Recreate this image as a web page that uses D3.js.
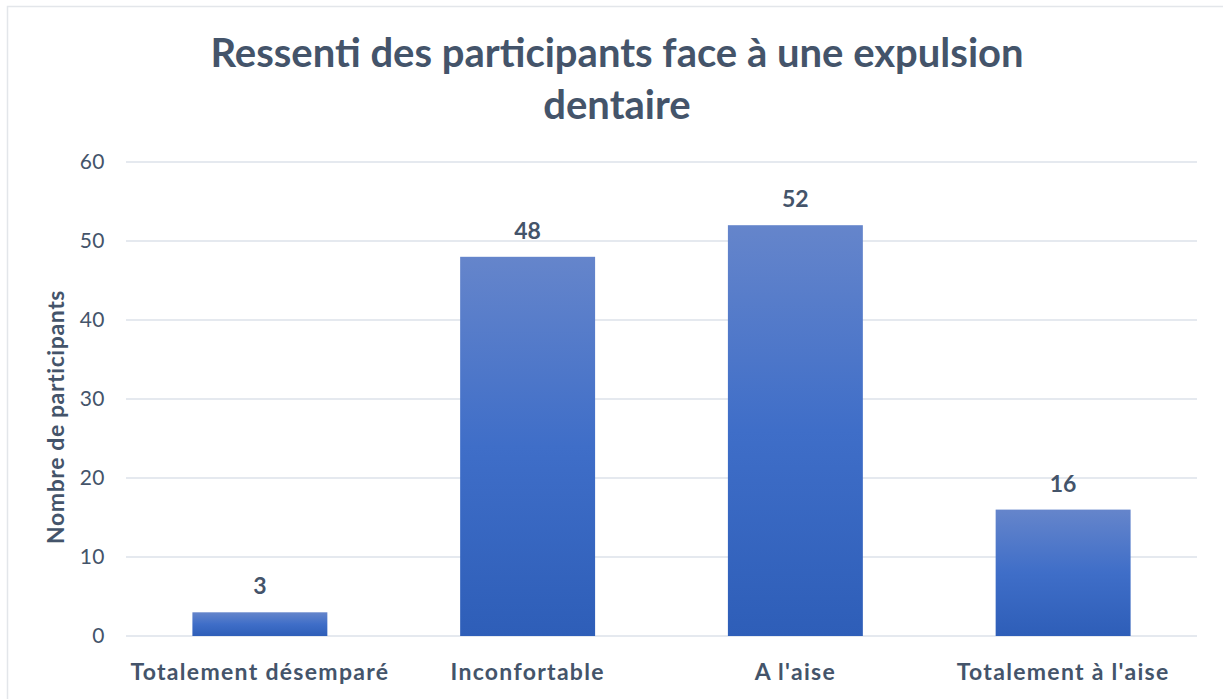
<!DOCTYPE html>
<meta charset="utf-8">
<script src="https://d3js.org/d3.v7.min.js"></script>
<style>
  body { margin: 0; background: #fff; }
  text { font-family: Lato, "Open Sans", sans-serif; fill: #44546A; }
</style>
<div id="chart"></div>
<script>
// data
var categories = ["Totalement désemparé", "Inconfortable", "A l'aise", "Totalement à l'aise"];
var values = [3, 48, 52, 16];
var yTicks = [0, 10, 20, 30, 40, 50, 60];
var titleLines = ["Ressenti des participants face à une expulsion", "dentaire"];

var W = 1223, H = 699;
var margin = {top: 162, right: 26, bottom: 63, left: 126},
    width = W - margin.left - margin.right,
    height = H - margin.top - margin.bottom;

var svg = d3.select("#chart").append("svg")
    .attr("width", W).attr("height", H);

// outer frame
svg.append("rect")
    .attr("x", 7.5).attr("y", 6.5)
    .attr("width", W + 10).attr("height", H + 10)
    .attr("fill", "none").attr("stroke", "#E3E6EA").attr("stroke-width", 1.5);

// gradient for the bars
var grad = svg.append("defs").append("linearGradient")
    .attr("id", "barGrad").attr("x1", 0).attr("y1", 0).attr("x2", 0).attr("y2", 1);
grad.append("stop").attr("offset", "0%").attr("stop-color", "#6585CB");
grad.append("stop").attr("offset", "50%").attr("stop-color", "#3F6EC8");
grad.append("stop").attr("offset", "100%").attr("stop-color", "#2E5EB8");

// title
svg.append("text")
    .attr("text-anchor", "middle")
    .style("font-size", "40px").style("font-weight", "bold")
  .selectAll("tspan")
  .data(titleLines)
  .enter().append("tspan")
    .attr("x", 617)
    .attr("y", function(d, i) { return 67 + i * 52; })
    .text(function(d) { return d; });

var g = svg.append("g")
    .attr("transform", "translate(" + margin.left + "," + margin.top + ")");

var x = d3.scaleBand().domain(categories).range([0, width]).paddingInner(0.496).paddingOuter(0.248);
var y = d3.scaleLinear().domain([0, 60]).range([height, 0]);

// gridlines
g.selectAll(".grid")
  .data(yTicks)
  .enter().append("line")
    .attr("x1", 0).attr("x2", width)
    .attr("y1", function(d) { return y(d); })
    .attr("y2", function(d) { return y(d); })
    .attr("stroke", "#DDE2EA").attr("stroke-width", 1.6);

// y axis
var yAxis = g.append("g")
    .call(d3.axisLeft(y).tickValues(yTicks).tickSize(0).tickPadding(21));
yAxis.select(".domain").remove();
yAxis.selectAll("text")
    .style("font-size", "21px").style("font-family", "Lato, sans-serif")
    .style("letter-spacing", "0.5px").attr("fill", "#44546A");

// x axis
var xAxis = g.append("g")
    .attr("transform", "translate(0," + height + ")")
    .call(d3.axisBottom(x).tickSize(0).tickPadding(28));
xAxis.select(".domain").remove();
xAxis.selectAll("text")
    .style("font-size", "23px").style("font-weight", "bold")
    .style("letter-spacing", "1.3px")
    .style("font-family", "Lato, sans-serif").attr("fill", "#44546A");

// bars
g.selectAll(".bar")
  .data(values)
  .enter().append("rect")
    .attr("x", function(d, i) { return x(categories[i]); })
    .attr("y", function(d) { return y(d); })
    .attr("width", x.bandwidth())
    .attr("height", function(d) { return height - y(d); })
    .attr("fill", "url(#barGrad)");

// value labels
g.selectAll(".val")
  .data(values)
  .enter().append("text")
    .attr("text-anchor", "middle")
    .attr("x", function(d, i) { return x(categories[i]) + x.bandwidth() / 2; })
    .attr("y", function(d) { return y(d) - 18; })
    .style("font-size", "23px").style("font-weight", "bold")
    .text(function(d) { return d; });

// y axis label
svg.append("text")
    .attr("transform", "translate(64,417) rotate(-90)")
    .attr("text-anchor", "middle")
    .style("font-size", "23px").style("font-weight", "bold")
    .style("letter-spacing", "0.6px")
    .text("Nombre de participants");
</script>
